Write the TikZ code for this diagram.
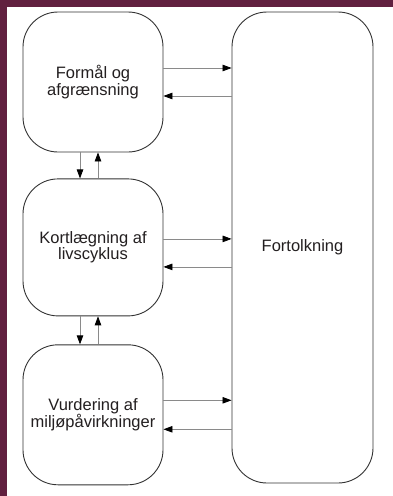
\documentclass[tikz,border=0pt]{standalone}
\usepackage{fontspec}
\setmainfont{Liberation Sans}
\usetikzlibrary{arrows.meta,positioning}
\definecolor{plum}{HTML}{61203F}
\definecolor{ink}{HTML}{231F20}
\definecolor{rule}{HTML}{333333}
\definecolor{pilgray}{HTML}{8A8A8A}

\begin{document}
\begin{tikzpicture}[x=1pt,y=-1pt,node distance=26pt,every node/.style={font=\fontsize{16.5}{16.5}\selectfont,align=center,text=ink},fase/.style={draw=rule,line width=0.9pt,rounded corners=35pt,minimum width=140pt,minimum height=140pt,inner sep=0pt},pil/.style={-{Triangle[length=9pt,width=6.5pt,color=black]},draw=pilgray,line width=0.8pt}]
\useasboundingbox (0,0) rectangle (393,496);
\fill[white] (0,0) rectangle (393,496);
\fill[plum] (0,0) rectangle (7,496);
\fill[plum] (0,0) rectangle (393,7);
\node[fase] (formaal) at (93,82) {Formål og\\afgrænsning};
\node[fase,minimum height=137pt,below=26pt of formaal] (kortlaeg) {Kortlægning af\\livscyklus};
\node[fase,below=28pt of kortlaeg] (vurdering) {Vurdering af\\miljøpåvirkninger};
\node[fase,minimum width=141pt,minimum height=471pt] (fortolk) at (302.5,247.5) {Fortolkning};
% frem og tilbage til fortolkning
\draw[pil] ([yshift=14pt]formaal.east) -- ([yshift=14pt]formaal.east -| fortolk.west);
\draw[pil] ([yshift=-14pt]formaal.east -| fortolk.west) -- ([yshift=-14pt]formaal.east);
\draw[pil] ([yshift=8.5pt]kortlaeg.east) -- ([yshift=8.5pt]kortlaeg.east -| fortolk.west);
\draw[pil] ([yshift=-19.5pt]kortlaeg.east -| fortolk.west) -- ([yshift=-19.5pt]kortlaeg.east);
\draw[pil] ([yshift=14.5pt]vurdering.east) -- ([yshift=14.5pt]vurdering.east -| fortolk.west);
\draw[pil] ([yshift=-14.5pt]vurdering.east -| fortolk.west) -- ([yshift=-14.5pt]vurdering.east);
% mellem faserne
\draw[pil] ([xshift=-13pt]formaal.south) -- ([xshift=-13pt]kortlaeg.north);
\draw[pil] ([xshift=5pt]kortlaeg.north) -- ([xshift=5pt]formaal.south);
\draw[pil] ([xshift=-13pt]kortlaeg.south) -- ([xshift=-13pt]vurdering.north);
\draw[pil] ([xshift=5pt]vurdering.north) -- ([xshift=5pt]kortlaeg.south);
\end{tikzpicture}
\end{document}
